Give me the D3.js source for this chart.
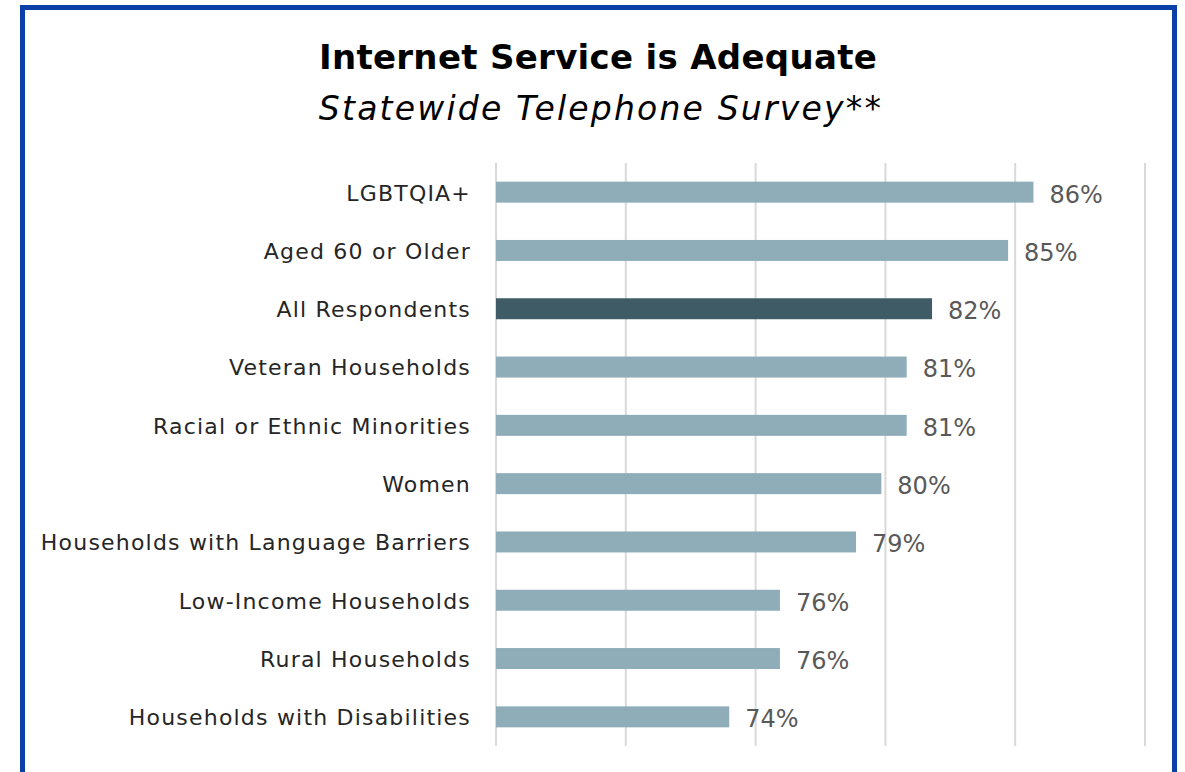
<!DOCTYPE html>
<html>
<head>
<meta charset="utf-8">
<script src="https://cdn.jsdelivr.net/npm/d3@7"></script>
<style>
  html, body { margin: 0; padding: 0; background: #ffffff; }
  svg { display: block; }
</style>
</head>
<body>
<svg id="chart" width="1185" height="772"></svg>
<script>
// Share of respondents who say their internet service is adequate
const categories = [
  "LGBTQIA+",
  "Aged 60 or Older",
  "All Respondents",
  "Veteran Households",
  "Racial or Ethnic Minorities",
  "Women",
  "Households with Language Barriers",
  "Low-Income Households",
  "Rural Households",
  "Households with Disabilities"
];
const values = [0.86, 0.85, 0.82, 0.81, 0.81, 0.80, 0.79, 0.76, 0.76, 0.74];
const highlighted = ["All Respondents"];
const axisDomain = [0.648, 0.904];
const gridCount = 6;

const titleText = "Internet Service is Adequate";
const subtitleText = "Statewide Telephone Survey**";

const FONT = "'DejaVu Sans', sans-serif";
const svg = d3.select("#chart");

// Blue frame around the panel (open at the bottom edge of the page)
svg.append("rect")
  .attr("x", 22.5).attr("y", 7.5)
  .attr("width", 1152).attr("height", 800)
  .attr("fill", "none")
  .attr("stroke", "#0a40a8")
  .attr("stroke-width", 5);

// Titles
svg.append("text")
  .attr("x", 598).attr("y", 69)
  .attr("text-anchor", "middle")
  .attr("font-family", FONT)
  .attr("font-weight", "bold")
  .attr("font-size", 34)
  .attr("letter-spacing", 0.3)
  .attr("fill", "#000")
  .text(titleText);

svg.append("text")
  .attr("x", 601).attr("y", 120)
  .attr("text-anchor", "middle")
  .attr("font-family", FONT)
  .attr("font-style", "italic")
  .attr("font-size", 33)
  .attr("letter-spacing", 2.2)
  .attr("fill", "#000")
  .text(subtitleText);

// Scales
const x = d3.scaleLinear().domain(axisDomain).range([496, 1145]);
const y = d3.scaleBand().domain(categories).range([163, 746]).paddingInner(0.64).paddingOuter(0.32);

// Vertical gridlines, evenly spaced across the axis
const gridValues = d3.range(gridCount).map(i =>
  axisDomain[0] + i * (axisDomain[1] - axisDomain[0]) / (gridCount - 1));
svg.append("g")
  .selectAll("line")
  .data(gridValues)
  .join("line")
  .attr("x1", d => x(d)).attr("x2", d => x(d))
  .attr("y1", 163).attr("y2", 746)
  .attr("stroke", "#d9d9d9")
  .attr("stroke-width", 2);

const rows = categories.map((c, i) => ({ cat: c, val: values[i] }));

// Bars
svg.append("g")
  .selectAll("rect")
  .data(rows)
  .join("rect")
  .attr("x", x(axisDomain[0]))
  .attr("y", d => y(d.cat))
  .attr("width", d => x(d.val) - x(axisDomain[0]))
  .attr("height", y.bandwidth())
  .attr("fill", d => highlighted.includes(d.cat) ? "#3f5b66" : "#8fadb8");

// Category labels
const yAxis = d3.axisLeft(y).tickSize(0).tickPadding(25);
const gy = svg.append("g").attr("transform", `translate(${x(axisDomain[0])},0)`).call(yAxis);
gy.select(".domain").remove();
gy.selectAll("text")
  .attr("font-family", FONT)
  .attr("font-size", 22)
  .attr("letter-spacing", 1.2)
  .attr("fill", "#262626")
  .attr("dy", "0.38em");

// Value labels
const pct = d3.format(".0%");
svg.append("g")
  .selectAll("text")
  .data(rows)
  .join("text")
  .attr("x", d => x(d.val) + 16)
  .attr("y", d => y(d.cat) + y.bandwidth() / 2 + 2)
  .attr("dy", "0.35em")
  .attr("font-family", FONT)
  .attr("font-size", 24)
  .attr("fill", "#595959")
  .text(d => pct(d.val));
</script>
</body>
</html>
